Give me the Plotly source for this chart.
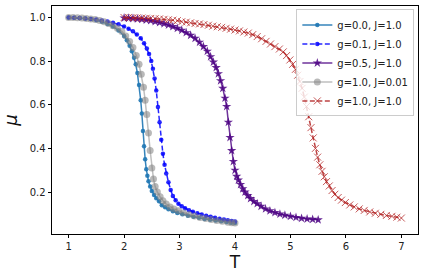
import plotly.graph_objects as go

# g=0.0, J=1.0
T_g00 = [1.0,1.1,1.2,1.3,1.4,1.5,1.6,1.7,1.8,1.9,2.0,2.05,2.1,2.14,2.18,2.21,2.24,2.27,2.3,2.32,2.34,2.36,2.38,2.4,2.42,2.44,2.47,2.5,2.54,2.58,2.63,2.68,2.74,2.8,2.88,2.96,3.05,3.15,3.25,3.35,3.45,3.55,3.65,3.75,3.85,3.93,4.0]
mu_g00 = [0.999,0.998,0.997,0.995,0.992,0.987,0.98,0.97,0.958,0.94,0.915,0.895,0.87,0.845,0.815,0.785,0.745,0.69,0.62,0.56,0.48,0.41,0.35,0.305,0.275,0.25,0.225,0.205,0.187,0.172,0.158,0.14,0.13,0.121,0.112,0.104,0.098,0.092,0.087,0.082,0.077,0.073,0.07,0.066,0.063,0.06,0.058]

# g=0.1, J=1.0
T_g01 = [1.0,1.1,1.2,1.3,1.4,1.5,1.6,1.7,1.8,1.9,2.0,2.08,2.16,2.23,2.3,2.36,2.41,2.45,2.49,2.52,2.55,2.58,2.61,2.64,2.67,2.7,2.73,2.76,2.8,2.84,2.88,2.93,2.98,3.04,3.1,3.17,3.24,3.32,3.4,3.48,3.56,3.64,3.72,3.8,3.87,3.94,4.0]
mu_g01 = [0.999,0.998,0.997,0.995,0.993,0.99,0.986,0.981,0.975,0.968,0.958,0.948,0.936,0.922,0.904,0.882,0.857,0.832,0.8,0.765,0.72,0.665,0.59,0.52,0.44,0.375,0.325,0.285,0.245,0.21,0.182,0.162,0.147,0.135,0.126,0.117,0.11,0.103,0.097,0.092,0.087,0.082,0.078,0.074,0.071,0.068,0.065]

# g=0.5, J=1.0
T_g05 = [2.0,2.08,2.16,2.24,2.32,2.4,2.48,2.56,2.64,2.72,2.8,2.88,2.96,3.04,3.12,3.2,3.28,3.36,3.43,3.5,3.56,3.61,3.66,3.7,3.74,3.78,3.82,3.85,3.88,3.91,3.94,3.97,4.0,4.03,4.06,4.1,4.14,4.18,4.23,4.28,4.34,4.4,4.47,4.55,4.63,4.72,4.81,4.9,5.0,5.1,5.2,5.3,5.4,5.5]
mu_g05 = [0.997,0.996,0.995,0.993,0.991,0.988,0.985,0.981,0.976,0.971,0.965,0.958,0.95,0.941,0.93,0.918,0.904,0.886,0.866,0.845,0.82,0.795,0.77,0.742,0.71,0.675,0.63,0.592,0.52,0.45,0.39,0.34,0.3,0.272,0.255,0.235,0.215,0.2,0.184,0.17,0.157,0.147,0.135,0.123,0.114,0.106,0.099,0.094,0.089,0.084,0.08,0.077,0.075,0.073]

# g=1.0, J=0.01
T_g10_J001 = [1.0,1.08,1.16,1.24,1.32,1.4,1.48,1.56,1.64,1.72,1.8,1.88,1.96,2.03,2.1,2.16,2.22,2.27,2.31,2.35,2.38,2.41,2.44,2.47,2.5,2.53,2.56,2.6,2.65,2.7,2.76,2.83,2.9,2.98,3.07,3.17,3.27,3.37,3.47,3.57,3.67,3.77,3.87,3.94,4.0]
mu_g10_J001 = [0.999,0.999,0.998,0.997,0.995,0.993,0.99,0.986,0.98,0.972,0.962,0.95,0.935,0.915,0.89,0.862,0.825,0.785,0.74,0.68,0.62,0.555,0.47,0.39,0.31,0.26,0.225,0.2,0.178,0.16,0.145,0.132,0.123,0.115,0.105,0.097,0.09,0.084,0.079,0.074,0.07,0.066,0.062,0.06,0.058]

# g=1.0, J=1.0
T_g10_J10 = [2.0,2.08,2.16,2.24,2.32,2.4,2.48,2.56,2.64,2.72,2.8,2.88,2.96,3.04,3.12,3.2,3.28,3.36,3.44,3.52,3.6,3.68,3.76,3.84,3.92,4.0,4.08,4.16,4.24,4.32,4.4,4.48,4.56,4.64,4.72,4.8,4.87,4.93,4.99,5.04,5.09,5.13,5.17,5.21,5.25,5.29,5.33,5.37,5.41,5.45,5.49,5.53,5.57,5.61,5.65,5.7,5.75,5.8,5.86,5.92,5.99,6.07,6.15,6.24,6.33,6.43,6.53,6.63,6.73,6.83,6.92,7.0]
mu_g10_J10 = [0.999,0.999,0.998,0.998,0.997,0.996,0.995,0.994,0.993,0.991,0.989,0.987,0.985,0.98,0.978,0.975,0.972,0.97,0.967,0.964,0.96,0.957,0.954,0.95,0.946,0.942,0.938,0.933,0.928,0.921,0.912,0.902,0.89,0.878,0.866,0.855,0.842,0.825,0.805,0.785,0.762,0.735,0.706,0.675,0.635,0.592,0.545,0.495,0.448,0.4,0.36,0.325,0.295,0.27,0.248,0.228,0.207,0.19,0.175,0.163,0.152,0.141,0.132,0.123,0.116,0.109,0.103,0.098,0.093,0.089,0.085,0.081]

labels = ["g=0.0, J=1.0", "g=0.1, J=1.0", "g=0.5, J=1.0", "g=1.0, J=0.01", "g=1.0, J=1.0"]
x_ticks = [1, 2, 3, 4, 5, 6, 7]
y_ticks = [0.2, 0.4, 0.6, 0.8, 1.0]

fig = go.Figure()
fig.add_trace(go.Scatter(x=T_g00, y=mu_g00, name=labels[0], mode="lines+markers",
                         line=dict(color="rgba(31,119,180,0.9)", width=1.5),
                         marker=dict(symbol="circle", size=4.5, color="rgba(31,119,180,0.9)")))
fig.add_trace(go.Scatter(x=T_g01, y=mu_g01, name=labels[1], mode="lines+markers",
                         line=dict(color="rgba(0,0,255,0.85)", width=1.5, dash="5px,2.5px"),
                         marker=dict(symbol="circle", size=4.5, color="rgba(0,0,255,0.85)")))
fig.add_trace(go.Scatter(x=T_g05, y=mu_g05, name=labels[2], mode="lines+markers",
                         line=dict(color="rgba(75,0,130,0.8)", width=1.5),
                         marker=dict(symbol="star", size=7, color="rgba(75,0,130,0.85)")))
fig.add_trace(go.Scatter(x=T_g10_J001, y=mu_g10_J001, name=labels[3], mode="lines+markers",
                         line=dict(color="rgba(128,128,128,0.5)", width=1.5),
                         marker=dict(symbol="circle", size=7, color="rgba(128,128,128,0.55)")))
fig.add_trace(go.Scatter(x=T_g10_J10, y=mu_g10_J10, name=labels[4], mode="lines+markers",
                         line=dict(color="rgba(178,34,34,0.85)", width=1.5, dash="5px,2.5px"),
                         marker=dict(symbol="x-thin", size=7,
                                     line=dict(color="rgba(178,34,34,0.75)", width=1))))

axis_common = dict(showline=True, linecolor="black", linewidth=0.8, mirror=True,
                   ticks="outside", ticklen=3.5, tickwidth=0.8, tickcolor="black",
                   showgrid=False, zeroline=False, automargin=False,
                   tickfont=dict(family="DejaVu Sans", size=10, color="#222"))

fig.update_layout(
    width=424, height=280,
    margin=dict(l=52, r=6, t=6, b=46),
    paper_bgcolor="white", plot_bgcolor="white",
    font=dict(family="DejaVu Sans", size=10, color="#222"),
    xaxis=dict(range=[0.7, 7.3], tickvals=x_ticks,
               title=dict(text="T", font=dict(size=17, color="#111"), standoff=2),
               **axis_common),
    yaxis=dict(range=[0.008, 1.052], tickvals=y_ticks, tickformat=".1f",
               title=dict(text="<i>μ</i>", font=dict(size=18, color="#111"), standoff=8),
               **axis_common),
    legend=dict(x=0.99, y=0.985, xanchor="right", yanchor="top",
                bgcolor="rgba(255,255,255,0.8)", bordercolor="#cccccc", borderwidth=1,
                font=dict(size=10, color="#222"), tracegroupgap=0, itemwidth=30),
    showlegend=True,
)

fig.write_html("out.html", config={"displayModeBar": False},
               post_script="document.body.style.margin='0';document.body.style.padding='0';")
